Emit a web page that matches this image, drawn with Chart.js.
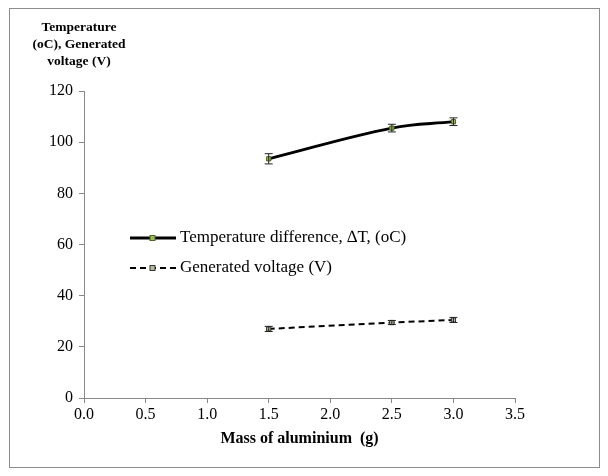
<!DOCTYPE html>
<html>
<head>
<meta charset="utf-8">
<script src="https://cdn.jsdelivr.net/npm/chart.js@4"></script>
<style>
  body { margin: 0; background: #fff; }
  #wrap { width: 608px; height: 476px; }
</style>
</head>
<body>
<div id="wrap"><canvas id="myChart" width="608" height="476"></canvas></div>
<script>
// data
const mass = [1.5, 2.5, 3.0];
const tempDiff = [93.5, 105.5, 108];
const tempErr = [2, 1.5, 1.5];
const voltage = [27, 29.5, 30.5];
const voltErr = [1, 0.8, 1];
const yTicks = [0, 20, 40, 60, 80, 100, 120];
const yTitle = ['Temperature', '(oC), Generated', 'voltage (V)'];

const serif = "'Liberation Serif', 'Times New Roman', serif";

// white page + grey frame
const frame = {
  id: 'frame',
  beforeDraw(chart) {
    const c = chart.ctx;
    c.save();
    c.fillStyle = '#fff';
    c.fillRect(0, 0, chart.width, chart.height);
    c.strokeStyle = '#8c8c8c';
    c.lineWidth = 1;
    c.strokeRect(9.5, 8.5, 590, 459);
    c.restore();
  }
};

// error bars with small caps
const errorBars = {
  id: 'errorBars',
  afterDatasetsDraw(chart) {
    const c = chart.ctx;
    const xs = chart.scales.x, ys = chart.scales.y;
    chart.data.datasets.forEach((ds) => {
      if (!ds.errors) return;
      c.save();
      c.strokeStyle = '#222';
      c.lineWidth = 1;
      ds.data.forEach((p, i) => {
        const x = xs.getPixelForValue(p.x);
        const y1 = ys.getPixelForValue(p.y - ds.errors[i]);
        const y2 = ys.getPixelForValue(p.y + ds.errors[i]);
        c.beginPath();
        c.moveTo(x, y1); c.lineTo(x, y2);
        c.moveTo(x - 4, y1); c.lineTo(x + 4, y1);
        c.moveTo(x - 4, y2); c.lineTo(x + 4, y2);
        c.stroke();
      });
      c.restore();
    });
  }
};

// y title above the axis + legend inside the plot
const texts = {
  id: 'texts',
  afterDraw(chart) {
    const c = chart.ctx;
    c.save();
    c.fillStyle = '#000';
    c.font = 'bold 13.5px ' + serif;
    c.textAlign = 'center';
    c.textBaseline = 'middle';
    yTitle.forEach((t, i) => c.fillText(t, 79, 28 + i * 17));

    // legend
    c.font = '17px ' + serif;
    c.textAlign = 'left';
    chart.data.datasets.forEach((ds, i) => {
      const y = 238 + i * 30;
      c.strokeStyle = '#000';
      c.lineWidth = ds.borderWidth;
      c.setLineDash(ds.borderDash || []);
      c.beginPath();
      c.moveTo(130, y); c.lineTo(176, y);
      c.stroke();
      c.setLineDash([]);
      c.fillStyle = ds.pointBackgroundColor;
      c.strokeStyle = ds.pointBorderColor;
      c.lineWidth = 1;
      c.fillRect(150, y - 2.5, 5, 5);
      c.strokeRect(150, y - 2.5, 5, 5);
      c.fillStyle = '#000';
      c.fillText(ds.label, 180, y);
    });
    c.restore();
  }
};

const ctx = document.getElementById('myChart').getContext('2d');
const myChart = new Chart(ctx, {
  type: 'scatter',
  data: {
    datasets: [{
      label: 'Temperature difference, \u2206T, (oC)',
      data: mass.map((m, i) => ({ x: m, y: tempDiff[i] })),
      errors: tempErr,
      showLine: true,
      tension: 0.4,
      borderColor: '#000',
      borderWidth: 2.8,
      pointStyle: 'rect',
      pointRadius: 3,
      pointBackgroundColor: '#9bbb59',
      pointBorderColor: '#4f6228',
      pointBorderWidth: 1
    }, {
      label: 'Generated voltage (V)',
      data: mass.map((m, i) => ({ x: m, y: voltage[i] })),
      errors: voltErr,
      showLine: true,
      tension: 0,
      borderColor: '#000',
      borderWidth: 2,
      borderDash: [6, 4],
      pointStyle: 'rect',
      pointRadius: 3,
      pointBackgroundColor: '#b8b8a0',
      pointBorderColor: '#333',
      pointBorderWidth: 1
    }]
  },
  options: {
    responsive: false,
    animation: false,
    layout: { padding: { left: 0, right: 93, top: 91, bottom: 28 } },
    plugins: { legend: { display: false }, tooltip: { enabled: false } },
    scales: {
      x: {
        min: 0, max: 3.5,
        afterFit: (s) => { s.height = 50; },
        afterBuildTicks: (s) => {
          s.ticks = [0, 0.5, 1, 1.5, 2, 2.5, 3, 3.5].map(v => ({ value: v }));
        },
        ticks: {
          color: '#000', font: { family: serif, size: 16 }, padding: 2,
          maxRotation: 0, callback: (v) => Number(v).toFixed(1)
        },
        grid: { drawOnChartArea: false, drawTicks: true, tickLength: 5, color: '#888' },
        border: { color: '#888' },
        title: {
          display: true, text: 'Mass of aluminium  (g)', color: '#000',
          font: { family: serif, size: 16, weight: 'bold' }, padding: { top: 0, bottom: 0 }
        }
      },
      y: {
        min: 0, max: 120,
        afterFit: (s) => { s.width = 84; },
        afterBuildTicks: (s) => { s.ticks = yTicks.map(v => ({ value: v })); },
        ticks: { color: '#000', font: { family: serif, size: 16 }, padding: 6 },
        grid: { drawOnChartArea: false, drawTicks: true, tickLength: 5, color: '#888' },
        border: { color: '#888' }
      }
    }
  },
  plugins: [frame, errorBars, texts]
});
</script>
</body>
</html>
